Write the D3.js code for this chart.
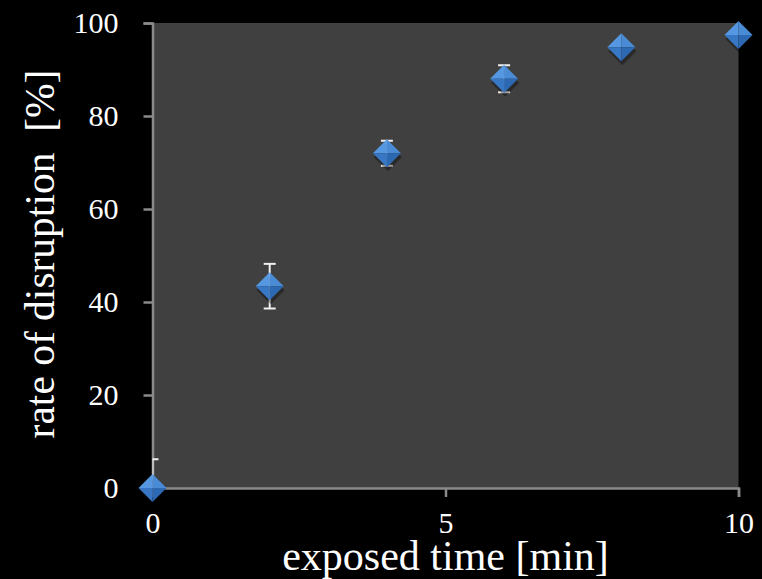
<!DOCTYPE html>
<html>
<head>
<meta charset="utf-8">
<script src="https://cdn.jsdelivr.net/npm/d3@7"></script>
<style>
  html, body { margin: 0; padding: 0; background: #000; }
  svg { display: block; }
</style>
</head>
<body>
<div id="chart"></div>
<script>
// data
const times = [0, 2, 4, 6, 8, 10];
const rates = [0, 43.4, 72.0, 88.0, 94.8, 97.4];
const errs = [6.2, 4.8, 2.7, 2.9, 0, 0];
const xTicks = [0, 5, 10];
const yTicks = [0, 20, 40, 60, 80, 100];

const width = 762, height = 579;
const plotL = 152.5, plotR = 738.5, plotT = 23, plotB = 488;
const serif = "'Liberation Serif'";

const svg = d3.select("#chart").append("svg")
    .attr("width", width).attr("height", height)
    .style("background", "#000");

const x = d3.scaleLinear().domain([0, 10]).range([plotL, plotR]);
const y = d3.scaleLinear().domain([0, 100]).range([plotB, plotT]);

// plot background
svg.append("rect")
    .attr("x", plotL).attr("y", plotT)
    .attr("width", plotR - plotL).attr("height", plotB - plotT)
    .attr("fill", "#404040");

svg.append("clipPath").attr("id", "plotclip")
    .append("rect")
    .attr("x", plotL).attr("y", plotT)
    .attr("width", plotR - plotL).attr("height", plotB - plotT);

// axes
const xAxis = svg.append("g")
    .attr("transform", "translate(0," + plotB + ")")
    .call(d3.axisBottom(x).tickValues(xTicks).tickSize(9).tickPadding(15));
const yAxis = svg.append("g")
    .attr("transform", "translate(" + plotL + ",0)")
    .call(d3.axisLeft(y).tickValues(yTicks).tickSize(9).tickPadding(25));

[xAxis, yAxis].forEach(g => {
    g.attr("font-family", serif).attr("font-size", 30);
    g.select(".domain").attr("stroke", "#8a8a8a").attr("stroke-width", 2.5);
    g.selectAll(".tick line").attr("stroke", "#8a8a8a").attr("stroke-width", 2.5);
    g.selectAll("text").attr("fill", "#fff");
});

// error bars
const eb = svg.append("g").attr("clip-path", "url(#plotclip)");
const withErr = times.map((t, i) => [t, rates[i], errs[i]]).filter(d => d[2] > 0);
eb.selectAll("line.v").data(withErr).enter().append("line")
    .attr("x1", d => x(d[0])).attr("x2", d => x(d[0]))
    .attr("y1", d => y(d[1] - d[2])).attr("y2", d => y(d[1] + d[2]))
    .attr("stroke", "#f0f0f0").attr("stroke-width", 2);
eb.selectAll("line.top").data(withErr).enter().append("line")
    .attr("x1", d => x(d[0]) - 6).attr("x2", d => x(d[0]) + 6)
    .attr("y1", d => y(d[1] + d[2])).attr("y2", d => y(d[1] + d[2]))
    .attr("stroke", "#f0f0f0").attr("stroke-width", 2);
eb.selectAll("line.bot").data(withErr).enter().append("line")
    .attr("x1", d => x(d[0]) - 6).attr("x2", d => x(d[0]) + 6)
    .attr("y1", d => y(d[1] - d[2])).attr("y2", d => y(d[1] - d[2]))
    .attr("stroke", "#f0f0f0").attr("stroke-width", 2);

// diamond markers with bevelled look
const r = 14;
const pts = svg.append("g").selectAll("g").data(times.map((t, i) => [t, rates[i]])).enter()
    .append("g").attr("transform", d => "translate(" + x(d[0]) + "," + y(d[1]) + ")");
pts.append("path")
    .attr("d", `M0,${-r + 3} L${r},3 L0,${r + 3} L${-r},3 Z`)
    .attr("fill", "rgba(0,0,0,0.35)").attr("transform", "translate(1,1)");
pts.append("path").attr("d", `M0,${-r} L${r},0 L0,0 Z`).attr("fill", "#4a8bd6");
pts.append("path").attr("d", `M0,${-r} L${-r},0 L0,0 Z`).attr("fill", "#5597e0");
pts.append("path").attr("d", `M${-r},0 L0,${r} L0,0 Z`).attr("fill", "#3777c4");
pts.append("path").attr("d", `M${r},0 L0,${r} L0,0 Z`).attr("fill", "#2d68b2");

// axis titles
svg.append("text")
    .attr("x", (plotL + plotR) / 2).attr("y", 570)
    .attr("text-anchor", "middle").attr("fill", "#fff")
    .attr("font-family", serif).attr("font-size", 42)
    .text("exposed time [min]");
svg.append("text")
    .attr("transform", "translate(54,254) rotate(-90)")
    .attr("text-anchor", "middle").attr("fill", "#fff")
    .attr("font-family", serif).attr("font-size", 41.5)
    .style("white-space", "pre")
    .text("rate of disruption  [%]");
</script>
</body>
</html>
